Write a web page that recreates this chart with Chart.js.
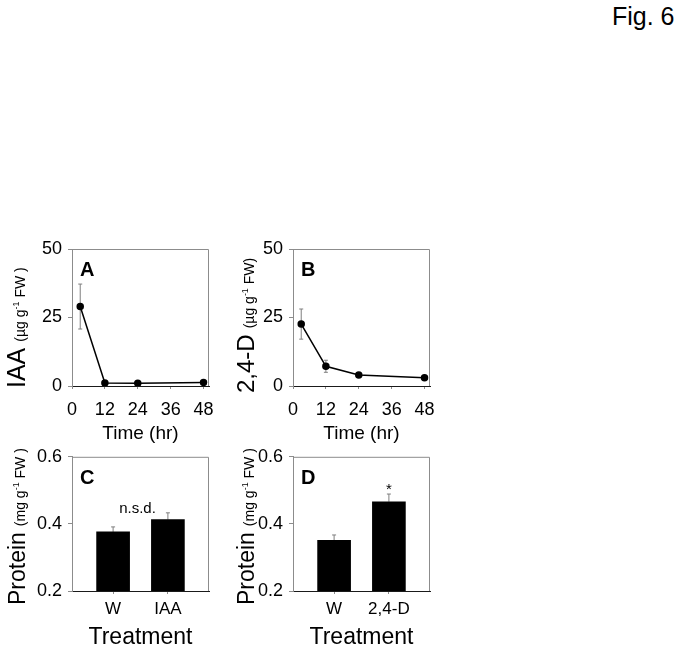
<!DOCTYPE html>
<html>
<head>
<meta charset="utf-8">
<script src="https://cdn.jsdelivr.net/npm/chart.js@4"></script>
<style>
  body { margin: 0; background: #fff; width: 683px; height: 653px; position: relative; overflow: hidden; font-family: 'Liberation Sans', Arial, sans-serif; }
  canvas { position: absolute; }
  #figLabel { position: absolute; left: 612px; top: 4px; font-size: 25px; line-height: 25px; color: #000; }
</style>
</head>
<body>
<div id="figLabel">Fig. 6</div>
<canvas id="chartA" width="230" height="220" style="left:0px;top:230px"></canvas>
<canvas id="chartB" width="230" height="220" style="left:230px;top:230px"></canvas>
<canvas id="chartC" width="230" height="213" style="left:0px;top:440px"></canvas>
<canvas id="chartD" width="230" height="213" style="left:230px;top:440px"></canvas>
<script>
// Time course of auxin content (A, B)
const timeHr = [3, 12, 24, 48];
const iaaMean = [29, 1.1, 1.0, 1.3];
const iaaSe = [8.2, 0, 0, 0];
const d24Mean = [22.6, 7.2, 4.0, 3.0];
const d24Se = [5.5, 2.2, 0, 0];
const timeTicks = [0, 12, 24, 36, 48];
const auxinTicks = [0, 25, 50];

// Protein content (C, D)
const treatIAA = ['W', 'IAA'];
const proteinIAA = [0.376, 0.413];
const proteinIAASe = [0.015, 0.020];
const treatD = ['W', '2,4-D'];
const proteinD = [0.351, 0.466];
const proteinDSe = [0.016, 0.023];
const proteinTicks = [0.2, 0.4, 0.6];

const FONT = "'Liberation Sans', Arial, sans-serif";

function drawYTitle(ctx, t) {
    ctx.save();
    ctx.translate(t.x, t.y);
    ctx.rotate(-Math.PI / 2);
    ctx.fillStyle = '#000';
    ctx.textAlign = 'left';
    ctx.textBaseline = 'alphabetic';
    let pos = 0;
    ctx.font = t.bigSize + 'px ' + FONT;
    ctx.fillText(t.big, pos, 0);
    pos += ctx.measureText(t.big).width + 6;
    ctx.font = '14px ' + FONT;
    ctx.fillText(t.unitA, pos, 0);
    pos += ctx.measureText(t.unitA).width;
    ctx.font = '9px ' + FONT;
    ctx.fillText('-1', pos, -6);
    pos += ctx.measureText('-1').width;
    ctx.font = '14px ' + FONT;
    ctx.fillText(t.unitB, pos, 0);
    ctx.restore();
}

const panelPlugin = {
    id: 'panel',
    beforeDatasetsDraw(chart) {
        const ctx = chart.ctx;
        const yScale = chart.scales.y;
        ctx.save();
        ctx.strokeStyle = '#7f7f7f';
        ctx.lineWidth = 1;
        chart.data.datasets.forEach((ds, i) => {
            const meta = chart.getDatasetMeta(i);
            ds.values.forEach((v, j) => {
                const err = ds.errors[j];
                if (!err) return;
                const x = meta.data[j].x;
                const yTop = yScale.getPixelForValue(v + err);
                const yBot = ds.errDown ? yScale.getPixelForValue(v - err) : yScale.getPixelForValue(v);
                ctx.beginPath();
                ctx.moveTo(x, yTop); ctx.lineTo(x, yBot);
                ctx.moveTo(x - 2, yTop); ctx.lineTo(x + 2, yTop);
                if (ds.errDown) { ctx.moveTo(x - 2, yBot); ctx.lineTo(x + 2, yBot); }
                ctx.stroke();
            });
        });
        ctx.restore();
    },
    afterDraw(chart, args, opts) {
        const ctx = chart.ctx;
        const a = chart.chartArea;
        ctx.save();
        // top and right frame
        ctx.strokeStyle = '#8c8c8c';
        ctx.lineWidth = 1;
        ctx.beginPath();
        ctx.moveTo(a.left, a.top + 0.5);
        ctx.lineTo(a.right - 0.5, a.top + 0.5);
        ctx.lineTo(a.right - 0.5, a.bottom);
        ctx.stroke();
        // panel letter
        ctx.fillStyle = '#000';
        ctx.font = 'bold 20px ' + FONT;
        ctx.textAlign = 'left';
        ctx.textBaseline = 'alphabetic';
        ctx.fillText(opts.letter, a.left + 8, a.top + 27);
        // notes
        (opts.notes || []).forEach(n => {
            ctx.font = n.size + 'px ' + FONT;
            ctx.textAlign = 'center';
            ctx.fillText(n.text, chart.scales.x.getPixelForValue(n.x), chart.scales.y.getPixelForValue(n.y));
        });
        ctx.restore();
        drawYTitle(ctx, opts.yTitle);
    }
};

function axisX(cfg) {
    return {
        type: 'linear',
        min: cfg.min,
        max: cfg.max,
        offset: false,
        afterBuildTicks: s => { s.ticks = cfg.ticks.map(v => ({ value: v })); },
        afterFit: s => { s.height = cfg.height; },
        ticks: {
            color: '#000',
            font: { family: FONT, size: cfg.tickSize },
            padding: cfg.tickPad,
            maxRotation: 0,
            autoSkip: false,
            callback: cfg.labels ? (v => cfg.labels[v - 1]) : (v => v)
        },
        grid: { offset: false, drawOnChartArea: false, drawTicks: true, tickLength: 3, color: '#8c8c8c' },
        border: { color: '#1a1a1a', width: 1 },
        title: {
            display: true,
            text: cfg.title,
            color: '#000',
            font: { family: FONT, size: cfg.titleSize },
            padding: { top: 0, bottom: cfg.titlePad }
        }
    };
}

function axisY(cfg) {
    return {
        type: 'linear',
        min: cfg.min,
        max: cfg.max,
        afterBuildTicks: s => { s.ticks = cfg.ticks.map(v => ({ value: v })); },
        afterFit: s => { s.width = cfg.width; },
        ticks: { color: '#000', font: { family: FONT, size: 18 }, padding: 6 },
        grid: { drawOnChartArea: false, drawTicks: true, tickLength: 4, color: '#8c8c8c' },
        border: { color: '#8c8c8c', width: 1 }
    };
}

function makeTimeChart(id, mean, se, yTitle, letter, yWidth, padRight) {
    return new Chart(document.getElementById(id), {
        type: 'scatter',
        data: {
            datasets: [{
                data: timeHr.map((t, i) => ({ x: t, y: mean[i] })),
                values: mean,
                errors: se,
                errDown: true,
                showLine: true,
                borderColor: '#000',
                backgroundColor: '#000',
                borderWidth: 1.5,
                pointRadius: 3,
                pointHoverRadius: 3
            }]
        },
        options: {
            responsive: false,
            animation: false,
            events: [],
            layout: { padding: { top: 19, right: padRight, left: 0, bottom: 0 } },
            plugins: {
                legend: { display: false },
                tooltip: { enabled: false },
                panel: { letter: letter, yTitle: yTitle }
            },
            scales: {
                x: axisX({ min: 0, max: 50, ticks: timeTicks, height: 64, tickSize: 18, tickPad: 10, title: 'Time (hr)', titleSize: 19, titlePad: 5 }),
                y: axisY({ min: 0, max: 50, ticks: auxinTicks, width: yWidth })
            }
        },
        plugins: [panelPlugin]
    });
}

function makeProteinChart(id, labels, mean, se, yTitle, letter, yWidth, padRight, notes) {
    return new Chart(document.getElementById(id), {
        type: 'bar',
        data: {
            datasets: [{
                data: mean.map((v, i) => ({ x: i + 1, y: v })),
                values: mean,
                errors: se,
                errDown: false,
                backgroundColor: '#000',
                borderWidth: 0,
                barThickness: 33
            }]
        },
        options: {
            responsive: false,
            animation: false,
            events: [],
            layout: { padding: { top: 14, right: padRight, left: 0, bottom: 0 } },
            plugins: {
                legend: { display: false },
                tooltip: { enabled: false },
                panel: { letter: letter, yTitle: yTitle, notes: notes }
            },
            scales: {
                x: axisX({ min: 0.25, max: 2.75, ticks: [1, 2], labels: labels, height: 62, tickSize: 17, tickPad: 5, title: 'Treatment', titleSize: 23, titlePad: 2 }),
                y: axisY({ min: 0.2, max: 0.6, ticks: proteinTicks, width: yWidth })
            }
        },
        plugins: [panelPlugin]
    });
}

makeTimeChart('chartA', iaaMean, iaaSe,
    { x: 25, y: 158, big: 'IAA', bigSize: 25, unitA: '(\u00b5g g', unitB: ' FW )' }, 'A', 72, 21);
makeTimeChart('chartB', d24Mean, d24Se,
    { x: 24, y: 163, big: '2,4-D', bigSize: 24, unitA: '(\u00b5g g', unitB: ' FW)' }, 'B', 63, 30);
makeProteinChart('chartC', treatIAA, proteinIAA, proteinIAASe,
    { x: 25, y: 165, big: 'Protein', bigSize: 23, unitA: '(mg g', unitB: ' FW )' }, 'C', 72, 21,
    [{ text: 'n.s.d.', x: 1.445, y: 0.431, size: 15 }]);
makeProteinChart('chartD', treatD, proteinD, proteinDSe,
    { x: 24, y: 165, big: 'Protein', bigSize: 23, unitA: '(mg g', unitB: ' FW )' }, 'D', 63, 30,
    [{ text: '*', x: 2, y: 0.49, size: 15 }]);
</script>
</body>
</html>
